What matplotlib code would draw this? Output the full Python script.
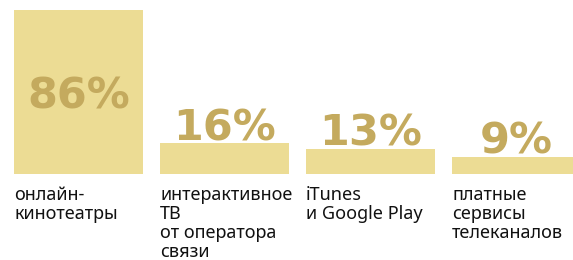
import matplotlib.pyplot as plt

# Data
labels = ["онлайн-\nкинотеатры", "интерактивное\nТВ\nот оператора\nсвязи",
          "iTunes\nи Google Play", "платные\nсервисы\nтелеканалов"]
values = [86, 16, 13, 9]
value_labels = ["86%", "16%", "13%", "9%"]

bar_color = '#ecdc94'
num_color = '#c4aa5e'

fig = plt.figure(figsize=(5.73, 2.6), dpi=100)
# axes: bar bottoms at 173.7 px from top, 86% top at 10 px from top
ax = fig.add_axes([0, 86.3 / 260, 1, 163.7 / 260])
ax.set_xlim(-14 / 146, 559 / 146)
ax.set_ylim(0, 86)
ax.axis('off')

width = 129 / 146
xs = list(range(len(values)))
ax.bar(xs, values, width=width, align='edge', color=bar_color, linewidth=0)

for x, v, vl, lab in zip(xs, values, value_labels, labels):
    cx = x + width / 2
    if v > 50:
        # big bar: number sits inside, a bit below the middle
        ax.annotate(vl, (cx, v / 2), xytext=(0, -17), textcoords='offset pixels',
                    ha='center', va='baseline', fontsize=31, fontweight='bold',
                    color=num_color, family='DejaVu Sans')
    else:
        ax.annotate(vl, (cx, v), xytext=(0, 3), textcoords='offset pixels',
                    ha='center', va='baseline', fontsize=31, fontweight='bold',
                    color=num_color, family='DejaVu Sans')
    ax.annotate(lab, (x, 0), xytext=(0, -12), textcoords='offset pixels',
                ha='left', va='top', fontsize=13, color='#111111',
                family='Noto Sans', linespacing=1.08, annotation_clip=False)

fig.savefig('out.png', dpi=100)
